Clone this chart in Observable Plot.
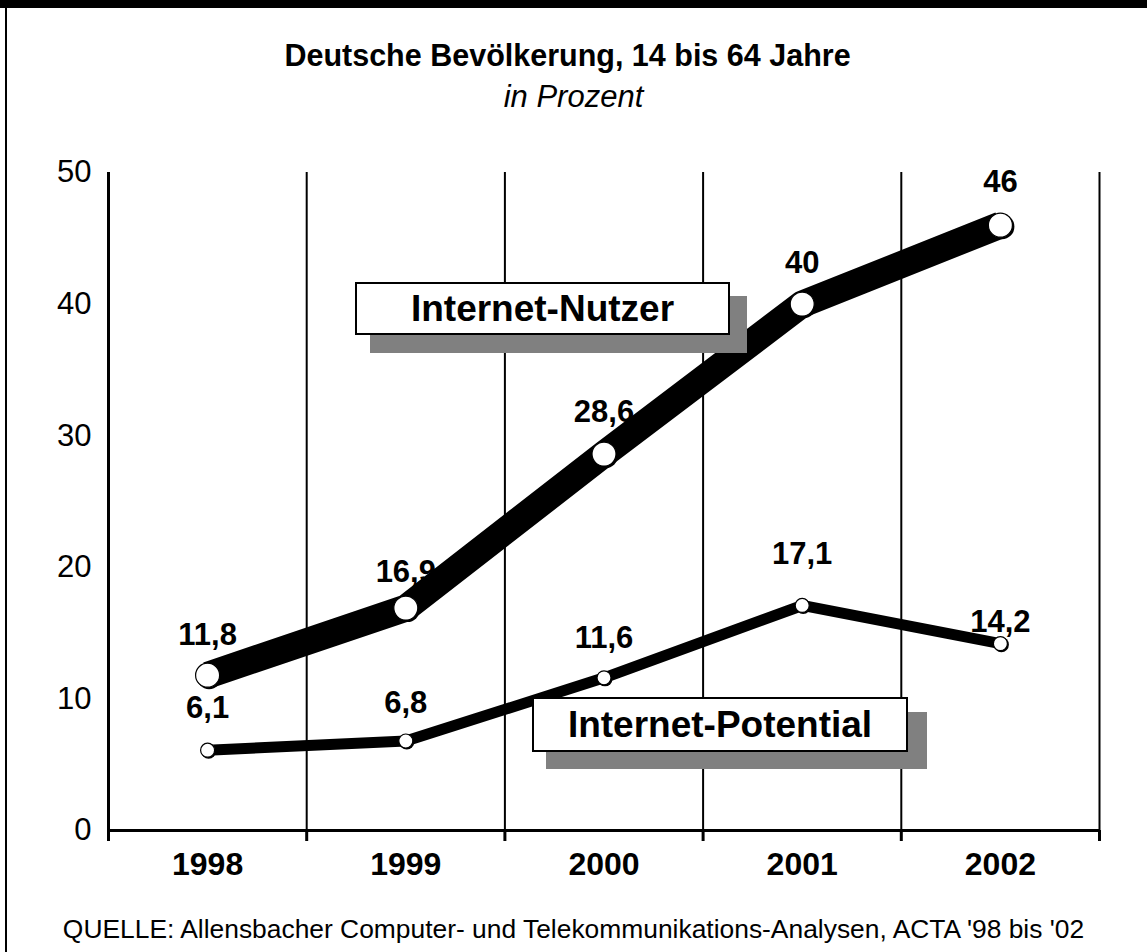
<!DOCTYPE html>
<html>
<head>
<meta charset="utf-8">
<script src="https://cdn.jsdelivr.net/npm/d3@7"></script>
<script src="https://cdn.jsdelivr.net/npm/@observablehq/plot@0.6"></script>
<style>
  html, body { margin: 0; padding: 0; background: #fff; }
  #page { position: relative; width: 1147px; height: 952px; background: #fff; overflow: hidden;
          font-family: "Liberation Sans", Arial, Helvetica, sans-serif; color: #000; }
  .abs { position: absolute; }
  #title { left: 0; width: 1135px; top: 38px; text-align: center; font-weight: bold; font-size: 30.5px; line-height: 34px; }
  #subtitle { left: 0; width: 1147px; top: 80px; text-align: center; font-style: italic; font-size: 31px; line-height: 34px; }
  #caption { left: 0; width: 1147px; top: 914px; text-align: center; font-size: 26.4px; line-height: 30px; }
  .box { position: absolute; background: #fff; border: 2px solid #000; box-sizing: border-box;
         display: flex; align-items: center; justify-content: center; font-weight: bold; font-size: 37px; }
  .shadow { position: absolute; background: #808080; }
</style>
</head>
<body>
<div id="page">
  <div class="abs" style="left:0;top:0;width:1147px;height:8px;background:#000"></div>
  <div class="abs" style="left:5px;top:0;width:2px;height:952px;background:#000"></div>
  <div id="title" class="abs">Deutsche Bevölkerung, 14 bis 64 Jahre</div>
  <div id="subtitle" class="abs">in Prozent</div>
  <div id="chart" class="abs" style="left:0;top:130px"></div>
  <div id="caption" class="abs">QUELLE: Allensbacher Computer- und Telekommunikations-Analysen, ACTA '98 bis '02</div>
  <div id="legend"></div>
</div>
<script>
// ---- data ----
const years = [1998, 1999, 2000, 2001, 2002];
const nutzer = [11.8, 16.9, 28.6, 40, 46];
const potential = [6.1, 6.8, 11.6, 17.1, 14.2];
const nutzerLabels = ["11,8", "16,9", "28,6", "40", "46"];
const potentialLabels = ["6,1", "6,8", "11,6", "17,1", "14,2"];
const yTicks = [0, 10, 20, 30, 40, 50];
const seriesNames = ["Internet-Nutzer", "Internet-Potential"];

// ---- layout (pixel offsets of value labels above their points) ----
const nutzerLabelDy = [-30, -26, -32, -31, -33];
const potentialLabelDy = [-32, -28, -30, -41, -12];

const nutzerRows = years.map((y, i) => ({year: y, value: nutzer[i], label: nutzerLabels[i]}));
const potentialRows = years.map((y, i) => ({year: y, value: potential[i], label: potentialLabels[i]}));
const edges = d3.range(years.length + 1).map(i => years[0] - 0.5 + i);

const labelMarks = (rows, dys) => rows.map((r, i) => Plot.text([r], {
  x: "year", y: "value", text: "label", dy: dys[i], lineAnchor: "bottom",
  fontSize: 31, fontWeight: "bold", fill: "#000"
}));

const chart = Plot.plot({
  width: 1147,
  height: 760,
  marginTop: 42,
  marginBottom: 60,
  marginLeft: 108,
  marginRight: 48,
  style: {fontFamily: "'Liberation Sans', Arial, Helvetica, sans-serif", background: "transparent", color: "#000"},
  x: {domain: [edges[0], edges[edges.length - 1]], label: null},
  y: {domain: [0, 50], label: null},
  marks: [
    Plot.ruleX(edges.slice(1), {y1: 0, y2: 50, stroke: "#000", strokeWidth: 2}),
    Plot.ruleX(edges.slice(0, 1), {y1: 0, y2: 50, stroke: "#000", strokeWidth: 3}),
    Plot.axisY({ticks: yTicks, tickSize: 0, tickPadding: 17, fontSize: 31, label: null, tickFormat: d => String(d)}),
    Plot.axisX({ticks: edges, tickSize: 11, label: null, tickFormat: () => "", stroke: "#000", strokeWidth: 3}),
    Plot.axisX({ticks: years, tickSize: 0, tickPadding: 22, fontSize: 32, fontWeight: "bold", label: null, tickFormat: d => String(d)}),
    Plot.ruleY([0], {stroke: "#000", strokeWidth: 3}),
    ...labelMarks(nutzerRows, nutzerLabelDy),
    ...labelMarks(potentialRows, potentialLabelDy),
    Plot.line(nutzerRows, {x: "year", y: "value", stroke: "#000", strokeWidth: 27, strokeLinecap: "butt", strokeLinejoin: "round"}),
    Plot.line(potentialRows, {x: "year", y: "value", stroke: "#000", strokeWidth: 11, strokeLinecap: "butt", strokeLinejoin: "round"}),
    Plot.dot(nutzerRows, {x: "year", y: "value", r: 12.5, fill: "#000", dx: 1.5, dy: 1.5}),
    Plot.dot(nutzerRows, {x: "year", y: "value", r: 12, fill: "#fff", stroke: "#000", strokeWidth: 1.2}),
    Plot.dot(potentialRows, {x: "year", y: "value", r: 7.5, fill: "#000", dx: 1, dy: 1}),
    Plot.dot(potentialRows, {x: "year", y: "value", r: 7, fill: "#fff", stroke: "#000", strokeWidth: 1.2})
  ]
});
document.getElementById("chart").appendChild(chart);

// ---- series name boxes (legend-style annotations) ----
const boxes = [
  {name: seriesNames[0], left: 355, top: 282, w: 375, h: 53, sl: 370, st: 296, sw: 377, sh: 57},
  {name: seriesNames[1], left: 532, top: 697, w: 376, h: 55, sl: 546, st: 712, sw: 381, sh: 57}
];
const legend = document.getElementById("legend");
for (const b of boxes) {
  const s = document.createElement("div");
  s.className = "shadow";
  Object.assign(s.style, {left: b.sl + "px", top: b.st + "px", width: b.sw + "px", height: b.sh + "px"});
  legend.appendChild(s);
  const d = document.createElement("div");
  d.className = "box";
  Object.assign(d.style, {left: b.left + "px", top: b.top + "px", width: b.w + "px", height: b.h + "px"});
  d.textContent = b.name;
  legend.appendChild(d);
}
</script>
</body>
</html>
